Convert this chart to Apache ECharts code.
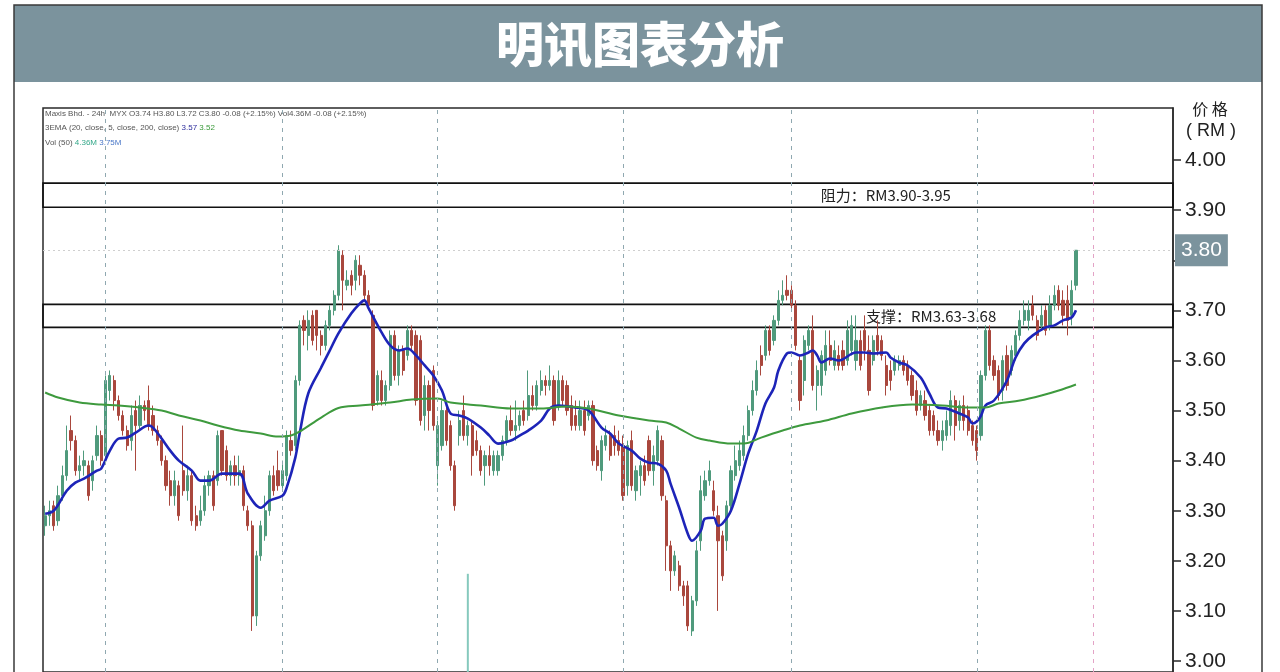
<!DOCTYPE html>
<html><head><meta charset="utf-8">
<script src="https://cdn.jsdelivr.net/npm/echarts@6/dist/echarts.min.js"></script>
<style>html,body{margin:0;padding:0;background:#fff}#c{width:1280px;height:672px}</style>
</head><body><div id="c"></div>
<script>
// Daily candles: [open, close, low, high]
const candles = [
[3.27,3.29,3.25,3.31],[3.29,3.30,3.27,3.32],[3.31,3.27,3.26,3.32],[3.28,3.33,3.27,3.35],[3.33,3.37,3.32,3.39],
[3.37,3.42,3.36,3.47],[3.46,3.44,3.42,3.49],[3.44,3.38,3.37,3.45],[3.38,3.39,3.36,3.41],[3.39,3.40,3.37,3.42],
[3.39,3.33,3.32,3.40],[3.36,3.40,3.34,3.41],[3.41,3.45,3.40,3.47],[3.45,3.40,3.39,3.46],[3.41,3.56,3.40,3.57],
[3.54,3.57,3.52,3.58],[3.56,3.52,3.50,3.57],[3.52,3.49,3.48,3.53],[3.49,3.46,3.45,3.50],[3.46,3.43,3.42,3.47],
[3.44,3.49,3.42,3.51],[3.50,3.47,3.38,3.52],[3.47,3.51,3.46,3.53],[3.51,3.50,3.48,3.52],[3.52,3.47,3.46,3.55],
[3.49,3.46,3.45,3.51],[3.46,3.44,3.43,3.47],[3.44,3.40,3.39,3.45],[3.40,3.35,3.34,3.41],[3.36,3.33,3.31,3.38],
[3.33,3.36,3.31,3.38],[3.35,3.29,3.28,3.36],[3.38,3.34,3.33,3.47],[3.34,3.37,3.32,3.39],[3.37,3.28,3.27,3.38],
[3.29,3.27,3.26,3.31],[3.28,3.30,3.27,3.33],[3.30,3.35,3.29,3.37],[3.35,3.37,3.33,3.38],[3.37,3.31,3.30,3.38],
[3.36,3.45,3.35,3.46],[3.46,3.38,3.37,3.46],[3.42,3.37,3.36,3.43],[3.37,3.39,3.35,3.40],[3.39,3.37,3.35,3.41],
[3.37,3.38,3.35,3.41],[3.38,3.31,3.30,3.39],[3.30,3.27,3.26,3.31],[3.27,3.09,3.06,3.28],[3.09,3.21,3.07,3.22],
[3.21,3.27,3.20,3.28],[3.25,3.30,3.24,3.33],[3.30,3.37,3.29,3.38],[3.37,3.34,3.33,3.39],[3.38,3.35,3.34,3.42],
[3.35,3.38,3.34,3.40],[3.37,3.45,3.36,3.46],[3.44,3.42,3.41,3.46],[3.43,3.56,3.42,3.57],[3.56,3.67,3.55,3.68],
[3.68,3.66,3.63,3.69],[3.65,3.68,3.62,3.70],[3.69,3.64,3.63,3.70],[3.70,3.65,3.62,3.70],[3.65,3.63,3.61,3.66],
[3.63,3.67,3.62,3.68],[3.67,3.70,3.66,3.71],[3.70,3.73,3.69,3.74],[3.73,3.82,3.72,3.83],[3.81,3.76,3.70,3.82],
[3.75,3.76,3.74,3.78],[3.77,3.75,3.73,3.78],[3.76,3.80,3.74,3.81],[3.79,3.77,3.75,3.81],[3.77,3.73,3.72,3.78],
[3.73,3.71,3.70,3.74],[3.69,3.51,3.50,3.70],[3.52,3.57,3.51,3.58],[3.56,3.52,3.51,3.58],[3.52,3.55,3.51,3.56],
[3.55,3.65,3.54,3.66],[3.65,3.57,3.56,3.66],[3.57,3.62,3.55,3.63],[3.62,3.58,3.57,3.63],[3.61,3.66,3.60,3.67],
[3.66,3.63,3.62,3.67],[3.65,3.52,3.51,3.66],[3.64,3.48,3.47,3.65],[3.49,3.55,3.46,3.57],[3.55,3.50,3.46,3.56],
[3.58,3.47,3.46,3.59],[3.39,3.47,3.35,3.48],[3.43,3.50,3.42,3.52],[3.50,3.44,3.43,3.51],[3.47,3.39,3.38,3.48],
[3.39,3.31,3.30,3.40],[3.45,3.48,3.43,3.50],[3.50,3.45,3.44,3.53],[3.45,3.47,3.43,3.48],[3.47,3.41,3.37,3.48],
[3.44,3.42,3.41,3.46],[3.42,3.38,3.37,3.43],[3.39,3.41,3.35,3.42],[3.41,3.39,3.37,3.43],[3.38,3.41,3.37,3.42],
[3.38,3.41,3.37,3.42],[3.41,3.44,3.40,3.45],[3.44,3.48,3.43,3.49],[3.48,3.46,3.45,3.51],[3.46,3.47,3.44,3.52],
[3.47,3.49,3.46,3.50],[3.50,3.48,3.47,3.52],[3.49,3.53,3.48,3.58],[3.53,3.51,3.50,3.55],[3.51,3.55,3.50,3.56],
[3.54,3.56,3.53,3.58],[3.56,3.55,3.53,3.57],[3.55,3.56,3.54,3.59],[3.56,3.48,3.47,3.57],[3.51,3.56,3.50,3.58],
[3.56,3.52,3.51,3.57],[3.55,3.50,3.49,3.56],[3.51,3.47,3.46,3.53],[3.49,3.47,3.46,3.52],[3.47,3.50,3.46,3.52],
[3.50,3.46,3.45,3.52],[3.49,3.51,3.48,3.52],[3.51,3.40,3.39,3.52],[3.42,3.39,3.38,3.43],[3.38,3.44,3.36,3.45],
[3.43,3.45,3.42,3.47],[3.45,3.41,3.40,3.46],[3.45,3.43,3.41,3.47],[3.44,3.42,3.41,3.46],[3.43,3.33,3.32,3.45],
[3.35,3.43,3.33,3.44],[3.44,3.35,3.34,3.46],[3.34,3.38,3.32,3.39],[3.37,3.39,3.33,3.40],[3.39,3.36,3.35,3.41],
[3.44,3.38,3.37,3.45],[3.38,3.41,3.35,3.43],[3.40,3.46,3.39,3.47],[3.44,3.33,3.32,3.45],[3.32,3.23,3.18,3.33],
[3.23,3.18,3.14,3.24],[3.18,3.21,3.17,3.22],[3.19,3.15,3.14,3.20],[3.15,3.13,3.11,3.16],[3.15,3.07,3.06,3.16],
[3.06,3.12,3.05,3.13],[3.12,3.22,3.11,3.24],[3.24,3.34,3.22,3.37],[3.33,3.36,3.32,3.38],[3.36,3.38,3.35,3.40],
[3.34,3.30,3.29,3.36],[3.29,3.24,3.10,3.31],[3.25,3.17,3.16,3.26],[3.24,3.31,3.22,3.32],[3.31,3.38,3.30,3.39],
[3.37,3.40,3.36,3.43],[3.39,3.42,3.38,3.44],[3.41,3.45,3.40,3.47],[3.45,3.50,3.44,3.51],[3.50,3.54,3.49,3.56],
[3.54,3.58,3.53,3.60],[3.61,3.59,3.57,3.63],[3.61,3.66,3.60,3.67],[3.66,3.62,3.61,3.67],[3.64,3.68,3.63,3.69],
[3.68,3.72,3.67,3.74],[3.72,3.73,3.71,3.76],[3.74,3.73,3.72,3.77],[3.74,3.71,3.70,3.75],[3.71,3.63,3.62,3.72],
[3.60,3.52,3.50,3.61],[3.56,3.64,3.53,3.65],[3.63,3.66,3.62,3.67],[3.66,3.55,3.54,3.69],[3.55,3.58,3.50,3.59],
[3.55,3.61,3.53,3.62],[3.58,3.63,3.57,3.66],[3.63,3.60,3.59,3.66],[3.59,3.62,3.58,3.64],[3.61,3.59,3.58,3.63],
[3.62,3.59,3.58,3.64],[3.60,3.66,3.59,3.68],[3.62,3.67,3.61,3.69],[3.60,3.64,3.58,3.69],[3.64,3.59,3.58,3.66],
[3.66,3.62,3.60,3.69],[3.62,3.54,3.53,3.65],[3.60,3.64,3.59,3.65],[3.65,3.62,3.61,3.68],[3.64,3.61,3.60,3.65],
[3.59,3.55,3.53,3.61],[3.58,3.56,3.54,3.60],[3.58,3.60,3.57,3.61],[3.59,3.60,3.58,3.61],[3.60,3.58,3.57,3.61],
[3.59,3.56,3.55,3.60],[3.57,3.53,3.52,3.58],[3.54,3.50,3.49,3.56],[3.51,3.53,3.50,3.54],[3.52,3.49,3.48,3.54],
[3.50,3.46,3.45,3.51],[3.49,3.46,3.45,3.50],[3.46,3.44,3.43,3.48],[3.44,3.46,3.42,3.48],[3.45,3.48,3.44,3.50],
[3.47,3.52,3.45,3.54],[3.52,3.47,3.44,3.53],[3.48,3.51,3.46,3.52],[3.51,3.48,3.46,3.53],[3.50,3.46,3.45,3.51],
[3.47,3.44,3.43,3.48],[3.46,3.42,3.40,3.47],[3.45,3.57,3.44,3.58],[3.57,3.66,3.56,3.67],[3.66,3.59,3.58,3.67],
[3.60,3.57,3.56,3.61],[3.58,3.53,3.52,3.59],[3.54,3.60,3.52,3.61],[3.61,3.55,3.54,3.63],[3.58,3.62,3.57,3.63],
[3.61,3.65,3.60,3.66],[3.65,3.68,3.64,3.70],[3.68,3.70,3.67,3.72],[3.68,3.70,3.66,3.72],[3.71,3.69,3.68,3.73],
[3.68,3.65,3.64,3.69],[3.67,3.69,3.66,3.71],[3.70,3.66,3.65,3.71],[3.67,3.71,3.66,3.73],[3.71,3.73,3.70,3.75],
[3.74,3.71,3.70,3.75],[3.72,3.69,3.67,3.74],[3.72,3.68,3.65,3.75],[3.69,3.74,3.67,3.76],[3.75,3.82,3.74,3.82]
];
// EMA lines: [candle index, value]
const ema20 = [
[0,3.294],[2,3.30],[5,3.34],[7,3.356],[9,3.364],[12,3.38],[13,3.384],[15,3.42],[17,3.444],[19,3.446],
[21,3.456],[24,3.47],[25,3.466],[27,3.444],[29,3.42],[31,3.40],[34,3.38],[36,3.36],[38,3.36],[41,3.374],
[45,3.374],[47,3.334],[50,3.306],[52,3.32],[55,3.33],[56,3.346],[58,3.406],[59,3.454],[61,3.534],[64,3.586],
[66,3.62],[68,3.654],[71,3.694],[73,3.714],[74,3.72],[75,3.704],[78,3.656],[80,3.63],[82,3.62],[84,3.624],
[86,3.61],[88,3.59],[90,3.57],[92,3.54],[94,3.494],[96,3.49],[98,3.484],[101,3.466],[103,3.45],[105,3.434],
[108,3.44],[110,3.45],[112,3.46],[115,3.48],[117,3.504],[119,3.51],[123,3.506],[126,3.50],[129,3.466],[131,3.454],
[133,3.434],[136,3.42],[138,3.404],[140,3.396],[142,3.394],[144,3.38],[145,3.354],[147,3.306],[149,3.254],[150,3.24],
[152,3.26],[153,3.284],[155,3.286],[156,3.27],[157,3.274],[159,3.30],[161,3.354],[163,3.414],[165,3.46],[167,3.514],
[169,3.546],[170,3.58],[172,3.614],[173,3.616],[175,3.61],[177,3.616],[178,3.62],[179,3.61],[180,3.596],[182,3.604],
[184,3.60],[188,3.616],[190,3.616],[192,3.614],[195,3.616],[196,3.606],[198,3.596],[200,3.59],[203,3.566],[205,3.534],
[207,3.506],[209,3.504],[212,3.494],[214,3.486],[215,3.474],[216,3.478],[217,3.49],[218,3.51],[220,3.52],[223,3.56],
[225,3.606],[227,3.634],[229,3.65],[232,3.666],[234,3.67],[236,3.68],[238,3.686],[239,3.70]
];
const ema200 = [
[0,3.536],[3,3.526],[8,3.516],[13,3.512],[17,3.51],[22,3.506],[27,3.50],[31,3.49],[36,3.48],[40,3.47],
[45,3.46],[50,3.454],[54,3.448],[57,3.45],[59,3.458],[64,3.486],[68,3.505],[73,3.51],[80,3.516],[85,3.522],
[91,3.524],[94,3.516],[101,3.51],[108,3.504],[115,3.504],[121,3.508],[126,3.504],[133,3.49],[140,3.48],[144,3.476],
[147,3.464],[151,3.446],[154,3.44],[159,3.434],[162,3.434],[166,3.446],[171,3.46],[175,3.47],[181,3.48],[187,3.494],
[194,3.506],[201,3.512],[208,3.51],[214,3.506],[218,3.506],[221,3.514],[226,3.52],[231,3.53],[235,3.54],[239,3.552]
];
// Visible volume bar (millions), [candle index, volume]
const volumeBars = [[98, 29.6]];
const priceTicks = [3.0,3.1,3.2,3.3,3.4,3.5,3.6,3.7,3.8,3.9,4.0];
const resistanceZone = [3.906, 3.954];
const supportZone = [3.666, 3.712];
const periodMarks = [14,55,91,134,173,216];
const futureMark = 243;
const futureSlots = 22;
const lastPriceLabel = '3.80';
const resistanceText = '阻力：RM3.90-3.95';
const supportText = '支撑：RM3.63-3.68';

const cats = [];
for (let i = 0; i < candles.length + futureSlots; i++) cats.push('d' + i);
const lastClose = candles[candles.length - 1][1];

const chart = echarts.init(document.getElementById('c'));
const vDash = (i, color) => ({ xAxis: cats[i], lineStyle: { color: color, type: [4, 5], width: 1 } });
const smallFont = 'Liberation Sans Narrow, Liberation Sans';

chart.setOption({
  animation: false,
  backgroundColor: '#fff',
  title: {
    text: '明讯图表分析', left: 'center', top: 15,
    textStyle: { color: '#fff', fontSize: 48, fontWeight: 900, fontFamily: 'Noto Sans CJK SC' }
  },
  graphic: [
    { type: 'rect', z: -10, shape: { x: 14, y: 5, width: 1248, height: 77 }, style: { fill: '#7b939d' } },
    { type: 'rect', z: -9, shape: { x: 14, y: 5, width: 1248, height: 720 }, style: { fill: 'none', stroke: '#3a3a3a', lineWidth: 1.5 } },
    { type: 'text', x: 1210, y: 109, style: { text: '价 格', fill: '#222', fontSize: 16, fontFamily: 'Noto Sans CJK SC', align: 'center', verticalAlign: 'middle' } },
    { type: 'text', x: 1211, y: 131, style: { text: '( RM )', fill: '#222', fontSize: 18, fontFamily: 'Liberation Sans', align: 'center', verticalAlign: 'middle' } },
    { type: 'text', x: 45, y: 114, style: { text: 'Maxis Bhd. - 24h  MYX O3.74 H3.80 L3.72 C3.80 -0.08 (+2.15%) Vol4.36M -0.08 (+2.15%)', fill: '#555', fontSize: 8, fontFamily: smallFont, verticalAlign: 'middle' } },
    { type: 'text', x: 45, y: 128, style: { text: '{a|3EMA (20, close, 5, close, 200, close)} {b|3.57} {c|3.52}', fontSize: 8, fontFamily: smallFont, verticalAlign: 'middle',
      rich: { a: { fill: '#555', fontSize: 8 }, b: { fill: '#2c2c9c', fontSize: 8 }, c: { fill: '#3a9a3a', fontSize: 8 } } } },
    { type: 'text', x: 45, y: 143, style: { text: '{a|Vol (50)} {b|4.36M} {c|3.75M}', fontSize: 8, fontFamily: smallFont, verticalAlign: 'middle',
      rich: { a: { fill: '#555', fontSize: 8 }, b: { fill: '#35a88a', fontSize: 8 }, c: { fill: '#4a78c8', fontSize: 8 } } } }
  ],
  grid: { left: 43, right: 107, top: 108, bottom: 0, show: true, borderColor: '#2a2a2a', borderWidth: 1.5, backgroundColor: 'transparent' },
  xAxis: {
    type: 'category', data: cats, boundaryGap: true,
    axisLine: { show: false }, axisTick: { show: false }, axisLabel: { show: false }, splitLine: { show: false }
  },
  yAxis: [
    {
      type: 'value', position: 'right', min: 2.978, max: 4.104,
      axisLine: { show: true, lineStyle: { color: '#2a2a2a', width: 1.5 } },
      axisTick: { show: true, length: 8, customValues: priceTicks, lineStyle: { color: '#2a2a2a', width: 1.5 } },
      axisLabel: { customValues: priceTicks, formatter: v => v.toFixed(2), fontSize: 21, color: '#222', margin: 12, fontFamily: 'Liberation Sans' },
      splitLine: { show: false }
    },
    { type: 'value', min: 0, max: 170, show: false }
  ],
  series: [
    {
      type: 'candlestick', name: 'Maxis', data: candles, barWidth: 2.7,
      itemStyle: { color: '#4f9a7c', color0: '#a9473d', borderColor: '#4f9a7c', borderColor0: '#a9473d', borderWidth: 1 },
      markLine: {
        silent: true, symbol: ['none', 'none'], label: { show: false },
        data: [
          ...periodMarks.map(i => vDash(i, '#8fa8b0')),
          vDash(futureMark, '#e3a3c6'),
          { yAxis: lastClose, lineStyle: { color: '#cfcfcf', type: [2, 3], width: 1 },
            label: { show: true, position: 'end', distance: 2, formatter: lastPriceLabel, color: '#fff', fontSize: 21,
              fontFamily: 'Liberation Sans', backgroundColor: '#7b939d', padding: [5, 6, 6, 6] } }
        ]
      },
      markArea: {
        silent: true,
        itemStyle: { color: 'rgba(0,0,0,0)', borderColor: '#111', borderWidth: 1.6 },
        label: { show: true, color: '#222', fontSize: 15, fontFamily: 'Noto Sans CJK SC', align: 'left', verticalAlign: 'middle' },
        data: [
          [{ yAxis: resistanceZone[0], name: resistanceText, label: { position: ['68.8%', '50%'] } }, { yAxis: resistanceZone[1] }],
          [{ yAxis: supportZone[0], name: supportText, label: { position: ['72.8%', '50%'] } }, { yAxis: supportZone[1] }]
        ]
      }
    },
    { type: 'line', name: 'EMA20', data: ema20, smooth: 0.35, showSymbol: false, lineStyle: { color: '#1d24b8', width: 2.6 } },
    { type: 'line', name: 'EMA200', data: ema200, smooth: 0.35, showSymbol: false, lineStyle: { color: '#3e9a3e', width: 2 } },
    { type: 'bar', name: 'Vol', yAxisIndex: 1, data: volumeBars, barWidth: 2, itemStyle: { color: '#86c9bd' } }
  ]
});
</script></body></html>
